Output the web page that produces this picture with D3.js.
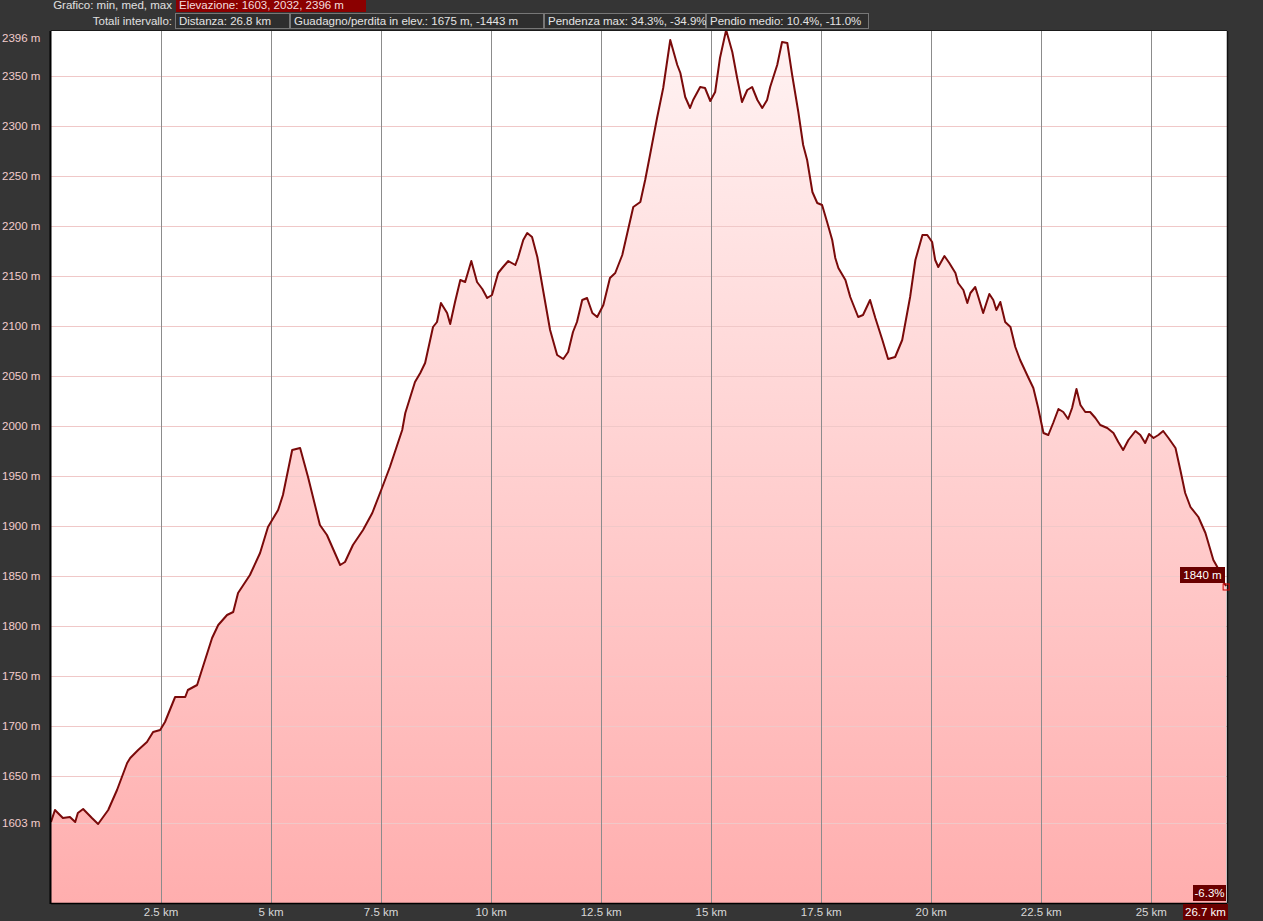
<!DOCTYPE html>
<html>
<head>
<meta charset="utf-8">
<script src="https://cdn.jsdelivr.net/npm/d3@7"></script>
<style>
  html, body { margin: 0; padding: 0; background: #353535; }
  svg { display: block; font-family: "Liberation Sans", Arial, sans-serif; }
</style>
</head>
<body>
<svg id="chart" width="1263" height="921"></svg>
<script>
// distance along the track (km) and elevation (m)
const distKm = [0, 0.09, 0.27, 0.43, 0.55, 0.61, 0.73, 0.93, 1.07, 1.30, 1.50, 1.73, 1.80, 1.98, 2.18, 2.32, 2.48, 2.59,
  2.82, 3.05, 3.11, 3.32, 3.45, 3.66, 3.80, 4.00, 4.14, 4.25, 4.52, 4.75, 4.93, 5.16, 5.27, 5.48, 5.66, 5.84, 6.11, 6.27,
  6.57, 6.68, 6.86, 7.09, 7.30, 7.52, 7.70, 7.98, 8.05, 8.27, 8.39, 8.50, 8.68, 8.77, 8.86, 9.00, 9.07, 9.18, 9.30, 9.41,
  9.55, 9.68, 9.80, 9.91, 10.02, 10.16, 10.27, 10.39, 10.55, 10.61, 10.73, 10.82, 10.93, 11.05, 11.18, 11.34, 11.50, 11.64,
  11.75, 11.86, 11.95, 12.07, 12.18, 12.30, 12.41, 12.55, 12.70, 12.82, 12.98, 13.11, 13.23, 13.39, 13.50, 13.61, 13.77,
  13.91, 14.07, 14.23, 14.30, 14.41, 14.52, 14.59, 14.75, 14.86, 14.98, 15.09, 15.20, 15.34, 15.48, 15.59, 15.70, 15.82,
  15.93, 16.05, 16.16, 16.27, 16.34, 16.50, 16.61, 16.73, 16.84, 16.98, 17.09, 17.18, 17.30, 17.41, 17.52, 17.64, 17.75,
  17.82, 17.89, 18.05, 18.16, 18.34, 18.45, 18.61, 18.73, 18.89, 19.02, 19.18, 19.34, 19.52, 19.64, 19.80, 19.91, 20.02,
  20.09, 20.16, 20.30, 20.41, 20.55, 20.61, 20.73, 20.82, 20.89, 21.00, 21.07, 21.18, 21.32, 21.41, 21.48, 21.57, 21.68,
  21.80, 21.91, 22.02, 22.20, 22.32, 22.43, 22.55, 22.66, 22.77, 22.89, 23.00, 23.11, 23.20, 23.30, 23.39, 23.50, 23.61,
  23.73, 23.84, 24.00, 24.14, 24.25, 24.36, 24.48, 24.64, 24.75, 24.86, 24.95, 25.05, 25.16, 25.27, 25.39, 25.55, 25.66,
  25.77, 25.89, 26.07, 26.23, 26.41, 26.50, 26.61, 26.70];
const elevM = [1604, 1616, 1608, 1609, 1604, 1613, 1617, 1608, 1602, 1616, 1636, 1663, 1668, 1676, 1684, 1694, 1696, 1704,
  1729, 1729, 1736, 1741, 1759, 1788, 1801, 1811, 1814, 1833, 1851, 1873, 1899, 1916, 1931, 1976, 1978, 1949, 1901, 1891,
  1861, 1864, 1881, 1896, 1913, 1938, 1959, 1996, 2013, 2044, 2053, 2063, 2099, 2104, 2123, 2113, 2102, 2124, 2146, 2144,
  2165, 2144, 2137, 2128, 2131, 2153, 2159, 2165, 2161, 2168, 2186, 2193, 2189, 2169, 2136, 2096, 2071, 2067,
  2074, 2094, 2104, 2126, 2128, 2113, 2109, 2121, 2148, 2153, 2171, 2196, 2219, 2224, 2246, 2271, 2308,
  2338, 2386, 2361, 2353, 2329, 2318, 2326, 2339, 2338, 2325, 2334, 2368, 2396, 2374, 2348, 2324, 2336,
  2339, 2326, 2318, 2326, 2339, 2361, 2384, 2383, 2351, 2314, 2281, 2266, 2234, 2223, 2221, 2203, 2186,
  2168, 2158, 2146, 2129, 2109, 2111, 2126, 2108, 2086, 2067, 2069, 2086, 2129, 2166, 2191, 2191, 2184,
  2166, 2159, 2170, 2163, 2153, 2143, 2136, 2123, 2133, 2139, 2129, 2113, 2132, 2126, 2116, 2124, 2104,
  2099, 2079, 2066, 2049, 2038, 2018, 1993, 1991, 2003, 2017, 2014, 2007, 2018, 2037, 2021, 2014, 2014,
  2008, 2001, 1998, 1993, 1984, 1976, 1986, 1995, 1991, 1983, 1992, 1988, 1991, 1995, 1988, 1978, 1956,
  1933, 1919, 1909, 1893, 1866, 1859, 1846, 1840];

const xTicks = [2.5, 5, 7.5, 10, 12.5, 15, 17.5, 20, 22.5, 25];
const xTickLabels = ["2.5 km", "5 km", "7.5 km", "10 km", "12.5 km", "15 km", "17.5 km", "20 km", "22.5 km", "25 km"];
const yTicks = [1603, 1650, 1700, 1750, 1800, 1850, 1900, 1950, 2000, 2050, 2100, 2150, 2200, 2250, 2300, 2350, 2396];

const headerLabels = ["Grafico: min, med, max", "Totali intervallo:"];
const statsRow1 = ["Elevazione: 1603, 2032, 2396 m"];
const statsRow2 = ["Distanza: 26.8 km", "Guadagno/perdita in elev.: 1675 m, -1443 m",
  "Pendenza max: 34.3%, -34.9%", "Pendio medio: 10.4%, -11.0%"];
const endElevLabel = "1840 m";
const endSlopeLabel = "-6.3%";
const endDistLabel = "26.7 km";

const svg = d3.select("#chart");
const plot = { left: 51, right: 1227, top: 31, bottom: 903 };

const x = d3.scaleLinear().domain([0, 26.72]).range([plot.left, plot.right]);
const y = d3.scaleLinear().domain([1523, 2396]).range([plot.bottom, 30]);

const data = distKm.map((d, i) => ({ d, e: elevM[i] }));

// --- gradient fill ---
const defs = svg.append("defs");
const grad = defs.append("linearGradient")
  .attr("id", "fillGrad")
  .attr("gradientUnits", "userSpaceOnUse")
  .attr("x1", 0).attr("y1", plot.top).attr("x2", 0).attr("y2", plot.bottom);
grad.append("stop").attr("offset", "0%").attr("stop-color", "#fff3f3");
grad.append("stop").attr("offset", "100%").attr("stop-color", "#ffaeae");

defs.append("clipPath").attr("id", "plotClip")
  .append("rect")
  .attr("x", plot.left).attr("y", plot.top)
  .attr("width", plot.right - plot.left).attr("height", plot.bottom - plot.top);

// plot background
svg.append("rect")
  .attr("x", plot.left).attr("y", plot.top)
  .attr("width", plot.right - plot.left).attr("height", plot.bottom - plot.top)
  .attr("fill", "#ffffff");

const g = svg.append("g").attr("clip-path", "url(#plotClip)");

// --- AREA ---
g.append("path")
  .datum(data)
  .attr("fill", "url(#fillGrad)")
  .attr("d", d3.area().x(p => x(p.d)).y0(plot.bottom).y1(p => y(p.e)));

// --- GRID ---
g.append("g")
  .selectAll("line")
  .data(yTicks.filter(t => t < 2396))
  .enter()
  .append("line")
  .attr("x1", plot.left).attr("x2", plot.right)
  .attr("y1", t => Math.round(y(t)) + 0.5).attr("y2", t => Math.round(y(t)) + 0.5)
  .attr("stroke", "#f0c8c8")
  .attr("stroke-width", 1);

g.append("g")
  .selectAll("line")
  .data(xTicks)
  .enter()
  .append("line")
  .attr("x1", t => Math.round(x(t)) + 0.5).attr("x2", t => Math.round(x(t)) + 0.5)
  .attr("y1", plot.top).attr("y2", plot.bottom)
  .attr("stroke", "#8c8c8c")
  .attr("stroke-width", 1);

// --- LINE ---
g.append("path")
  .datum(data)
  .attr("fill", "none")
  .attr("stroke", "#7a0a0a")
  .attr("stroke-width", 2)
  .attr("stroke-linejoin", "round")
  .attr("d", d3.line().x(p => x(p.d)).y(p => y(p.e)));

// frame
svg.append("line")
  .attr("x1", plot.left - 0.5).attr("x2", plot.left - 0.5)
  .attr("y1", plot.top).attr("y2", plot.bottom + 1)
  .attr("stroke", "#000").attr("stroke-width", 2);
svg.append("line")
  .attr("x1", plot.left).attr("x2", plot.right)
  .attr("y1", plot.bottom + 0.5).attr("y2", plot.bottom + 0.5)
  .attr("stroke", "#000").attr("stroke-width", 1.5);
svg.append("line")
  .attr("x1", plot.left).attr("x2", plot.right)
  .attr("y1", plot.top - 0.5).attr("y2", plot.top - 0.5)
  .attr("stroke", "#1a1a1a").attr("stroke-width", 1);
svg.append("line")
  .attr("x1", plot.right + 0.5).attr("x2", plot.right + 0.5)
  .attr("y1", plot.top).attr("y2", plot.bottom)
  .attr("stroke", "#111").attr("stroke-width", 1.5);

// --- Y LABELS ---
svg.append("g")
  .selectAll("text")
  .data(yTicks)
  .enter()
  .append("text")
  .attr("x", 2)
  .attr("y", t => t === 2396 ? 42 : y(t) + 4)
  .attr("font-size", 11.5)
  .attr("fill", "#f2cccc")
  .text(t => t + " m");

// --- X LABELS ---
svg.append("g")
  .selectAll("text")
  .data(xTicks)
  .enter()
  .append("text")
  .attr("x", t => x(t))
  .attr("y", 916)
  .attr("text-anchor", "middle")
  .attr("font-size", 11.5)
  .attr("fill", "#d8d8d8")
  .text((t, i) => xTickLabels[i]);

// --- HEADER ---
const head = svg.append("g").attr("font-size", 11.5);
head.append("text").attr("x", 172).attr("y", 9).attr("text-anchor", "end")
  .attr("fill", "#e0e0e0").text(headerLabels[0]);
head.append("text").attr("x", 172).attr("y", 25).attr("text-anchor", "end")
  .attr("fill", "#e0e0e0").text(headerLabels[1]);

head.append("rect").attr("x", 176).attr("y", -1).attr("width", 190).attr("height", 13)
  .attr("fill", "#8b0000");
head.append("text").attr("x", 179).attr("y", 9).attr("fill", "#f4dede").text(statsRow1[0]);

const boxX = [175, 290, 544, 706, 869];
statsRow2.forEach((s, i) => {
  head.append("rect")
    .attr("x", boxX[i] + 0.5).attr("y", 13.5)
    .attr("width", boxX[i + 1] - boxX[i] - 1).attr("height", 15)
    .attr("fill", "#2e2e2e").attr("stroke", "#777").attr("stroke-width", 1);
  head.append("text").attr("x", boxX[i] + 4).attr("y", 25)
    .attr("fill", "#e4e4e4").text(s);
});

// --- END MARKERS ---
const last = data[data.length - 1];
svg.append("rect")
  .attr("x", x(last.d) - 3).attr("y", y(last.e) - 2)
  .attr("width", 6).attr("height", 6)
  .attr("fill", "none").attr("stroke", "#d00000").attr("stroke-width", 1);

function tag(text, xr, yc, w) {
  svg.append("rect").attr("x", xr - w).attr("y", yc - 8).attr("width", w).attr("height", 16)
    .attr("fill", "#6a0000");
  svg.append("text").attr("x", xr - w / 2).attr("y", yc + 4).attr("text-anchor", "middle")
    .attr("font-size", 11.5).attr("fill", "#ffffff").text(text);
}
tag(endElevLabel, 1225, y(last.e) - 11, 45);
tag(endSlopeLabel, 1226, 893, 33);
tag(endDistLabel, 1228, 912, 45);
</script>
</body>
</html>
